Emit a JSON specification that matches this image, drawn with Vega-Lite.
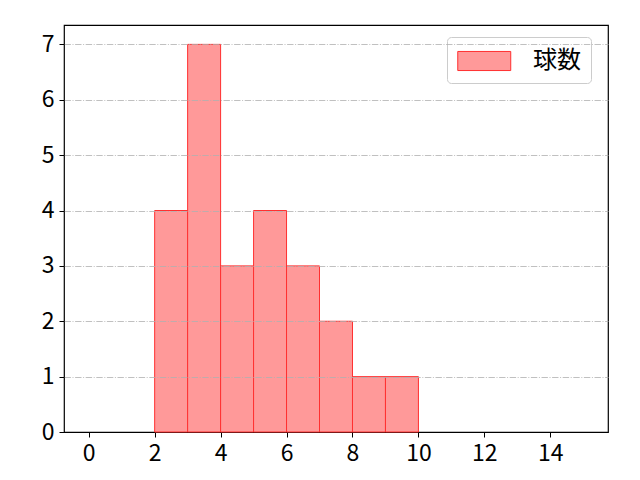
{
  "$schema": "https://vega.github.io/schema/vega-lite/v6.json",
  "width": 544,
  "height": 407,
  "autosize": {"type": "none"},
  "padding": {"left": 64, "top": 25, "right": 32, "bottom": 48},
  "background": "white",
  "config": {
    "view": {"stroke": "black", "strokeWidth": 1.2},
    "font": "Noto Sans CJK JP",
    "axis": {
      "labelFont": "Noto Sans CJK JP",
      "labelFontSize": 23,
      "labelColor": "black",
      "domain": false,
      "tickColor": "black",
      "tickSize": 5,
      "tickWidth": 1,
      "labelPadding": 5,
      "title": null
    }
  },
  "data": {
    "values": [
      {"bin_start": 2, "bin_end": 3, "count": 4, "series": "球数"},
      {"bin_start": 3, "bin_end": 4, "count": 7, "series": "球数"},
      {"bin_start": 4, "bin_end": 5, "count": 3, "series": "球数"},
      {"bin_start": 5, "bin_end": 6, "count": 4, "series": "球数"},
      {"bin_start": 6, "bin_end": 7, "count": 3, "series": "球数"},
      {"bin_start": 7, "bin_end": 8, "count": 2, "series": "球数"},
      {"bin_start": 8, "bin_end": 9, "count": 1, "series": "球数"},
      {"bin_start": 9, "bin_end": 10, "count": 1, "series": "球数"}
    ]
  },
  "mark": {"type": "rect", "stroke": "#ff3030", "strokeWidth": 1},
  "encoding": {
    "x": {
      "field": "bin_start",
      "type": "quantitative",
      "scale": {"domain": [-0.75, 15.75], "nice": false, "zero": false},
      "axis": {"values": [0, 2, 4, 6, 8, 10, 12, 14], "grid": false}
    },
    "x2": {"field": "bin_end"},
    "y": {
      "field": "count",
      "type": "quantitative",
      "scale": {"domain": [0, 7.35], "nice": false},
      "axis": {
        "values": [0, 1, 2, 3, 4, 5, 6, 7],
        "grid": true,
        "gridColor": "#b0b0b0",
        "gridWidth": 0.8,
        "gridDash": [6.4, 1.6, 1, 1.6],
        "gridOpacity": {"condition": {"test": "datum.value === 0", "value": 0}, "value": 1},
        "zindex": 1
      }
    },
    "y2": {"datum": 0},
    "color": {
      "field": "series",
      "type": "nominal",
      "scale": {"range": ["#ff9999"]},
      "legend": {
        "title": null,
        "orient": "none",
        "legendX": 383,
        "legendY": 12,
        "labelFont": "Noto Sans CJK JP",
        "labelFontSize": 24,
        "labelColor": "black",
        "labelOffset": 48,
        "symbolType": "M-1,-0.72H3V0.72H-1Z",
        "symbolSize": 702,
        "symbolStrokeColor": "#ff3030",
        "symbolStrokeWidth": 1,
        "symbolOpacity": 1,
        "fillColor": "white",
        "strokeColor": "#cccccc",
        "cornerRadius": 4,
        "padding": 10
      }
    }
  }
}
